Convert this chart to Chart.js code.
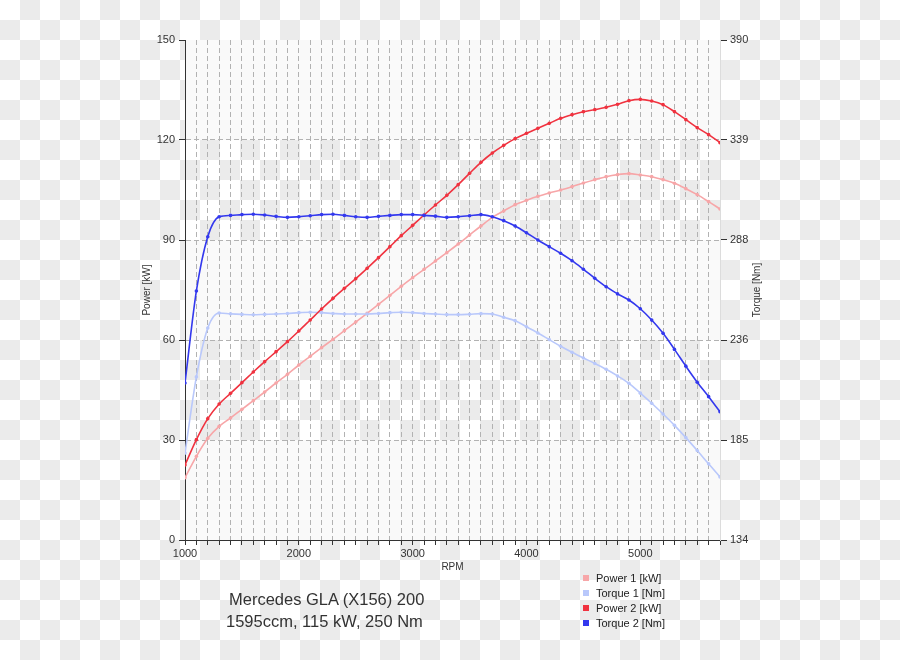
<!DOCTYPE html>
<html>
<head>
<meta charset="utf-8">
<script src="https://cdn.jsdelivr.net/npm/chart.js@4.4.1/dist/chart.umd.min.js"></script>
<style>
  html, body { margin: 0; padding: 0; }
  body {
    width: 900px; height: 660px; overflow: hidden; position: relative;
    background: repeating-conic-gradient(#ebebeb 0 25%, #ffffff 0 50%) 0 0 / 40px 40px;
    font-family: "Liberation Sans", Arial, sans-serif; color: #333;
  }
  #c { position: absolute; left: 0; top: 0; }
  .title { position: absolute; font-size: 16.5px; color: #333; white-space: nowrap; }
  #legend { position: absolute; left: 583px; top: 571px; font-size: 11px; color: #222; }
  #legend div { height: 15px; line-height: 15px; white-space: nowrap; }
  #legend span.sw { display: inline-block; width: 6px; height: 6px; margin-right: 7px; vertical-align: 1px; }
</style>
</head>
<body>
<canvas id="c" width="900" height="660"></canvas>
<div class="title" style="top:590px; left:229px">Mercedes GLA (X156) 200</div>
<div class="title" style="top:612px; left:226px">1595ccm, 115 kW, 250 Nm</div>
<div id="legend"></div>
<script>
const rpm = [1000,1100,1200,1300,1400,1500,1600,1700,1800,1900,2000,2100,2200,2300,2400,2500,2600,2700,2800,2900,3000,3100,3200,3300,3400,3500,3600,3700,3800,3900,4000,4100,4200,4300,4400,4500,4600,4700,4800,4900,5000,5100,5200,5300,5400,5500,5600,5700];

const power1 = [18.7,25.1,30.5,34.1,36.6,39.2,41.8,44.4,47.1,49.7,52.5,55.1,57.7,60.2,62.8,65.4,68.0,70.7,73.4,76.1,78.7,81.2,83.7,86.2,88.8,91.5,94.2,96.8,98.7,100.6,101.9,103.1,104.1,105.0,106.0,107.1,108.1,109.0,109.6,109.9,109.5,109.0,108.1,107.0,105.4,103.6,101.5,99.3];

const torque1 = [178.5,217.5,242.5,250.2,249.8,249.5,249.3,249.5,249.7,250.0,250.4,250.6,250.4,250.0,249.7,249.7,249.7,250.0,250.4,250.6,250.4,250.0,249.7,249.4,249.4,249.6,249.9,249.7,248.0,246.3,243.2,240.0,236.6,233.2,230.1,227.2,224.4,221.4,218.0,214.2,209.2,204.0,198.5,192.7,186.4,179.8,173.0,166.3];

const power2 = [22.5,30.1,36.4,40.8,44.0,47.2,50.4,53.5,56.5,59.5,62.7,66.0,69.3,72.5,75.5,78.4,81.5,84.7,88.0,91.3,94.4,97.5,100.5,103.4,106.6,110.0,113.3,116.1,118.4,120.4,122.0,123.5,125.0,126.5,127.6,128.5,129.1,129.8,130.7,131.8,132.2,131.7,130.6,128.5,126.1,123.7,121.6,119.2];

const torque2 = [214.4,261.5,289.3,299.5,300.2,300.6,300.8,300.4,299.7,299.2,299.5,300.0,300.6,300.8,300.2,299.5,299.2,299.7,300.2,300.6,300.6,300.2,299.8,299.2,299.5,300.0,300.6,299.5,297.5,294.8,291.3,287.6,284.2,280.8,277.0,272.6,268.0,263.7,260.0,256.9,252.4,246.6,239.8,231.6,223.0,214.8,207.4,199.7];

const powerTicks = [0,30,60,90,120,150];
const torqueTicks = [134,185.2,236.4,287.6,338.8,390];
const seriesNames = ["Power 1 [kW]","Torque 1 [Nm]","Power 2 [kW]","Torque 2 [Nm]"];
const seriesColors = ["#f7a6a8","#b9c8fb","#f0323f","#3338ee"];

const pairs = arr => arr.map((v, i) => ({x: rpm[i], y: v}));

function ds(label, data, color, axis, order) {
  return {
    label, data: pairs(data), yAxisID: axis,
    borderColor: color, backgroundColor: color,
    borderWidth: 1.6, pointRadius: 1.8, pointHoverRadius: 1.8,
    pointBorderWidth: 0, cubicInterpolationMode: 'monotone', fill: false, order
  };
}

const bandPlugin = {
  id: 'bands',
  beforeDraw(chart) {
    const {ctx, chartArea, scales} = chart;
    const y = scales.y;
    ctx.save();
    ctx.fillStyle = 'rgba(250,250,250,0.93)';
    [[0,30],[60,90],[120,150]].forEach(([a,b]) => {
      const top = y.getPixelForValue(b), bot = y.getPixelForValue(a);
      ctx.fillRect(chartArea.left, top, chartArea.right - chartArea.left, bot - top);
    });
    ctx.restore();
  },
  afterDraw(chart) {
    const {ctx, chartArea} = chart;
    ctx.save();
    ctx.fillStyle = '#333';
    ctx.font = '10px "Liberation Sans", Arial, sans-serif';
    ctx.textAlign = 'center';
    ctx.textBaseline = 'middle';
    const midY = (chartArea.top + chartArea.bottom) / 2;
    ctx.save(); ctx.translate(147, midY); ctx.rotate(-Math.PI/2); ctx.fillText('Power [kW]', 0, 0); ctx.restore();
    ctx.save(); ctx.translate(757, midY); ctx.rotate(-Math.PI/2); ctx.fillText('Torque [Nm]', 0, 0); ctx.restore();
    ctx.fillText('RPM', (chartArea.left + chartArea.right) / 2, 567);
    ctx.restore();
  }
};

const tickFont = {family: '"Liberation Sans", Arial, sans-serif', size: 11};

new Chart(document.getElementById('c'), {
  type: 'line',
  data: {
    datasets: [
      ds(seriesNames[0], power1, seriesColors[0], 'y', 4),
      ds(seriesNames[1], torque1, seriesColors[1], 'y1', 3),
      ds(seriesNames[2], power2, seriesColors[2], 'y', 2),
      ds(seriesNames[3], torque2, seriesColors[3], 'y1', 1)
    ]
  },
  options: {
    responsive: false, animation: false,
    layout: {padding: {top: 40, left: 0, right: 0, bottom: 0}},
    plugins: {legend: {display: false}, tooltip: {enabled: false}},
    events: [],
    scales: {
      x: {
        type: 'linear', min: 1000, max: 5700,
        afterFit(s) { s.height = 120; },
        ticks: {
          stepSize: 100, autoSkip: false, maxRotation: 0, color: '#333', font: tickFont, padding: 2,
          callback: v => (Math.round(v) % 1000 === 0 ? String(Math.round(v)) : '')
        },
        grid: {
          color: ctx => (ctx.tick && ctx.tick.value >= 5700 ? '#d8d8d8' : '#b2b2b2'),
          lineWidth: 1, tickLength: 5, tickColor: '#333'
        },
        border: {display: true, color: '#333', width: 1, dash: [5,3]}
      },
      y: {
        type: 'linear', position: 'left', min: 0, max: 150,
        afterFit(s) { s.width = 185; },
        afterBuildTicks(s) { s.ticks = powerTicks.map(v => ({value: v})); },
        ticks: {color: '#333', font: tickFont, padding: 4},
        grid: {
          color: ctx => (ctx.tick && ctx.tick.value >= 150 ? 'rgba(0,0,0,0)' : '#b2b2b2'),
          lineWidth: 1, tickLength: 6, tickColor: '#333'
        },
        border: {display: true, color: '#333', width: 1, dash: [5,3]}
      },
      y1: {
        type: 'linear', position: 'right', min: 134, max: 390,
        afterFit(s) { s.width = 180; },
        afterBuildTicks(s) { s.ticks = torqueTicks.map(v => ({value: v})); },
        ticks: {color: '#333', font: tickFont, padding: 3, callback: v => String(Math.round(v))},
        grid: {drawOnChartArea: false, tickLength: 7, tickColor: '#333'},
        border: {display: true, color: '#dcdcdc', width: 1}
      }
    }
  },
  plugins: [bandPlugin]
});

const legend = document.getElementById('legend');
seriesNames.forEach((n, i) => {
  const d = document.createElement('div');
  d.innerHTML = '<span class="sw" style="background:' + seriesColors[i] + '"></span>' + n;
  legend.appendChild(d);
});
</script>
</body>
</html>
